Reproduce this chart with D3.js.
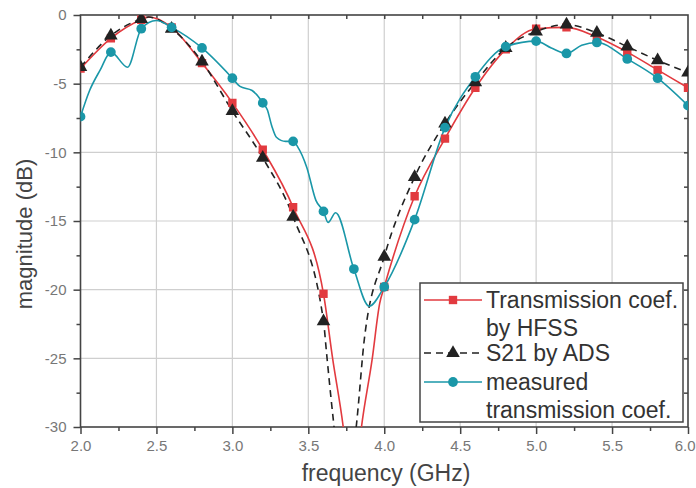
<!DOCTYPE html>
<html>
<head>
<meta charset="utf-8">
<script src="https://cdn.jsdelivr.net/npm/d3@7"></script>
<style>
  body { margin: 0; background: #fff; }
  text { font-family: "Liberation Sans", Arial, sans-serif; }
</style>
</head>
<body>
<script>
// marker frequencies (GHz)
var freqs = [2.0, 2.2, 2.4, 2.6, 2.8, 3.0, 3.2, 3.4, 3.6, 3.8, 4.0, 4.2, 4.4, 4.6, 4.8, 5.0, 5.2, 5.4, 5.6, 5.8, 6.0];

// values at markers (dB); null = off chart
var hfss = [-3.9, -1.7, -0.35, -0.9, -3.5, -6.4, -9.8, -14.0, -20.3, null, -19.8, -13.2, -9.0, -5.3, -2.5, -1.0, -0.9, -1.6, -2.7, -4.0, -5.3];
var ads = [-3.8, -1.5, -0.3, -1.0, -3.4, -7.0, -10.4, -14.7, -22.3, null, -17.6, -11.8, -7.9, -4.9, -2.4, -1.2, -0.7, -1.3, -2.3, -3.3, -4.2];
var measured = [-7.4, -2.7, -1.0, -0.9, -2.4, -4.6, -6.4, -9.2, -14.3, -18.5, -19.8, -14.9, -8.2, -4.5, -2.3, -1.9, -2.8, -2.0, -3.2, -4.6, -6.6];

// extra points between markers
var hfssExtra = [[2.45, -0.15], [3.66, -25.0], [3.73, -30.0], [3.79, -36.0], [3.85, -30.0], [3.92, -25.1], [3.97, -21.0]];
var adsExtra = [[2.45, -0.15], [3.62, -24.6], [3.66, -29.0], [3.745, -36.0], [3.82, -29.5], [3.87, -23.5]];
var measuredExtra = [[2.06, -5.5], [2.13, -4.0], [2.31, -3.8], [2.5, -0.4], [3.05, -5.2], [3.13, -5.5], [3.16, -5.8],
  [3.23, -6.9], [3.26, -8.1], [3.29, -8.9], [3.35, -9.2], [3.43, -9.6], [3.49, -11.1], [3.55, -13.5],
  [3.63, -15.1], [3.68, -14.4], [3.9, -21.2], [5.1, -2.4], [5.3, -2.2]];

var xTicks = [2.0, 2.5, 3.0, 3.5, 4.0, 4.5, 5.0, 5.5, 6.0];
var yTicks = [0, -5, -10, -15, -20, -25, -30];
var legendLabels = [["Transmission coef.", "by HFSS"], ["S21 by ADS"], ["measured", "transmission coef."]];

var width = 696, height = 488;
var pL = 80.5, pR = 688, pT = 15, pB = 427;

var svg = d3.select("body").append("svg")
  .attr("width", width)
  .attr("height", height);

var x = d3.scaleLinear().domain([2, 6]).range([pL, pR]);
var y = d3.scaleLinear().domain([-30, 0]).range([pB, pT]);

function markers(vals) {
  var pts = [];
  freqs.forEach(function (f, i) {
    if (vals[i] != null) pts.push([f, vals[i]]);
  });
  return pts;
}
function points(vals, extra) {
  return markers(vals).concat(extra).sort(function (a, b) { return a[0] - b[0]; });
}

// grid
svg.append("g").selectAll("line")
  .data(xTicks.slice(1, -1)).enter().append("line")
  .attr("x1", function (d) { return x(d); }).attr("x2", function (d) { return x(d); })
  .attr("y1", pT).attr("y2", pB)
  .attr("stroke", "#cfcfcf").attr("stroke-width", 1.2);
svg.append("g").selectAll("line")
  .data(yTicks.slice(1, -1)).enter().append("line")
  .attr("y1", function (d) { return y(d); }).attr("y2", function (d) { return y(d); })
  .attr("x1", pL).attr("x2", pR)
  .attr("stroke", "#cfcfcf").attr("stroke-width", 1.2);

// axes
var fmtX = function (d) { return d.toFixed(1); };
var fmtY = function (d) { return String(d); };

var xAxis = svg.append("g").attr("transform", "translate(0," + pB + ")")
  .call(d3.axisBottom(x).tickValues(xTicks).tickFormat(fmtX).tickSize(7).tickPadding(6));
var xMinor = svg.append("g").attr("transform", "translate(0," + pB + ")")
  .call(d3.axisBottom(x).tickValues(d3.range(2.25, 6, 0.5)).tickFormat("").tickSize(4));
var yAxis = svg.append("g").attr("transform", "translate(" + pL + ",0)")
  .call(d3.axisLeft(y).tickValues(yTicks).tickFormat(fmtY).tickSize(7).tickPadding(7));
var yMinor = svg.append("g").attr("transform", "translate(" + pL + ",0)")
  .call(d3.axisLeft(y).tickValues(d3.range(-27.5, 0, 5)).tickFormat("").tickSize(4));
var xTop = svg.append("g").attr("transform", "translate(0," + pT + ")")
  .call(d3.axisBottom(x).tickValues(d3.range(2.25, 6, 0.25)).tickFormat("").tickSize(4));
var yRight = svg.append("g").attr("transform", "translate(" + pR + ",0)")
  .call(d3.axisLeft(y).tickValues(d3.range(-27.5, 0, 2.5)).tickFormat("").tickSize(4));

[xAxis, xMinor, yAxis, yMinor, xTop, yRight].forEach(function (g) {
  g.select(".domain").remove();
  g.selectAll("line").attr("stroke", "#444").attr("stroke-width", 1.5);
  g.selectAll("text").attr("fill", "#777").style("font-size", "15px");
});
// last x label sits at the window edge; keep it inside
xAxis.selectAll(".tick").filter(function (d) { return d === 6; })
  .select("text").attr("text-anchor", "end").attr("x", 7);

svg.append("rect")
  .attr("x", pL).attr("y", pT)
  .attr("width", pR - pL).attr("height", pB - pT)
  .attr("fill", "none").attr("stroke", "#444").attr("stroke-width", 1.6);

// labels
svg.append("text")
  .attr("transform", "translate(32,234) rotate(-90)")
  .attr("text-anchor", "middle")
  .attr("fill", "#444").style("font-size", "22px")
  .text("magnitude (dB)");
svg.append("text")
  .attr("x", 386).attr("y", 481)
  .attr("text-anchor", "middle")
  .attr("fill", "#444").style("font-size", "23px")
  .text("frequency (GHz)");

// series
svg.append("clipPath").attr("id", "plot")
  .append("rect").attr("x", pL).attr("y", pT)
  .attr("width", pR - pL).attr("height", pB - pT);

var line = d3.line()
  .x(function (d) { return x(d[0]); })
  .y(function (d) { return y(d[1]); })
  .curve(d3.curveMonotoneX);

var series = [
  { vals: hfss, extra: hfssExtra, color: "#e23a3f", dash: null, shape: d3.symbolSquare, size: 70 },
  { vals: ads, extra: adsExtra, color: "#222", dash: "7,5", shape: d3.symbolTriangle, size: 80 },
  { vals: measured, extra: measuredExtra, color: "#1a97a8", dash: null, shape: d3.symbolCircle, size: 75 }
];

var plot = svg.append("g").attr("clip-path", "url(#plot)");
series.forEach(function (s) {
  plot.append("path")
    .datum(points(s.vals, s.extra))
    .attr("d", line)
    .attr("fill", "none")
    .attr("stroke", s.color)
    .attr("stroke-width", 1.6)
    .attr("stroke-dasharray", s.dash);
});
series.forEach(function (s) {
  plot.selectAll(null)
    .data(markers(s.vals)).enter().append("path")
    .attr("transform", function (d) { return "translate(" + x(d[0]) + "," + y(d[1]) + ")"; })
    .attr("d", d3.symbol().type(s.shape).size(s.size))
    .attr("fill", s.color);
});

// legend
var lg = svg.append("g");
lg.append("rect")
  .attr("x", 420).attr("y", 283).attr("width", 263).attr("height", 139)
  .attr("fill", "#fff").attr("stroke", "#444").attr("stroke-width", 1.5);
var rowY = [300, 353, 382];
series.forEach(function (s, i) {
  lg.append("line")
    .attr("x1", 424).attr("x2", 482)
    .attr("y1", rowY[i]).attr("y2", rowY[i])
    .attr("stroke", s.color).attr("stroke-width", 1.6)
    .attr("stroke-dasharray", s.dash);
  lg.append("path")
    .attr("transform", "translate(453," + rowY[i] + ")")
    .attr("d", d3.symbol().type(s.shape).size(s.size))
    .attr("fill", s.color);
  legendLabels[i].forEach(function (t, j) {
    lg.append("text")
      .attr("x", 486).attr("y", rowY[i] + 8 + j * 28)
      .attr("fill", "#333").style("font-size", "23px")
      .text(t);
  });
});
</script>
</body>
</html>
